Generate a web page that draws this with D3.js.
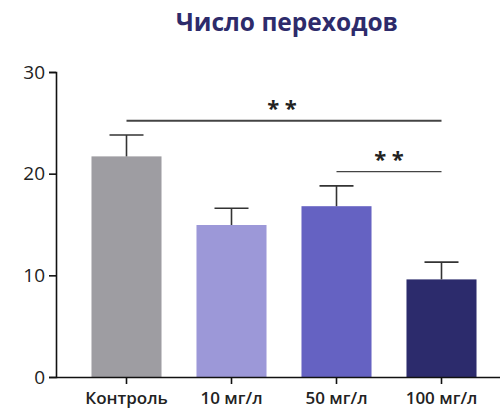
<!DOCTYPE html>
<html>
<head>
<meta charset="utf-8">
<script src="https://cdn.jsdelivr.net/npm/d3@7"></script>
<style>
  body { margin: 0; background: #fff; }
  svg text { font-family: "Open Sans", sans-serif; }
</style>
</head>
<body>
<div id="chart"></div>
<script>
// data
const categories = ["Контроль", "10 мг/л", "50 мг/л", "100 мг/л"];
const means = [21.7, 14.95, 16.8, 9.6];
const errors = [2.1, 1.65, 2.0, 1.7];
const barColors = ["#9e9da2", "#9c98d8", "#6562c2", "#2c2b6c"];
const yTicks = [0, 10, 20, 30];
// significance brackets: from group, to group, height, label
const brackets = [
    { from: 0, to: 3, y: 25.2, label: "* *", width: 2, dx: -2 },
    { from: 2, to: 3, y: 20.2, label: "* *", width: 1.2, dx: 0 }
];

const width = 500, height = 414;
const margin = { top: 72, right: 0, bottom: 37, left: 56 };

const svg = d3.select("#chart").append("svg")
    .attr("width", width)
    .attr("height", height);

svg.append("text")
    .attr("x", 287)
    .attr("y", 31)
    .attr("text-anchor", "middle")
    .attr("fill", "#2d2b6b")
    .style("font-size", "24.5px")
    .style("font-weight", "700")
    .text("Число переходов");

const x = d3.scaleBand()
    .domain(categories)
    .range([margin.left + 18, margin.left + 18 + 4 * 105])
    .paddingInner(0.333)
    .paddingOuter(0.1665);

const y = d3.scaleLinear()
    .domain([0, 30])
    .range([height - margin.bottom, margin.top]);

const g = svg.append("g");

// bars
g.selectAll("rect.bar")
    .data(categories)
    .enter().append("rect")
    .attr("class", "bar")
    .attr("x", d => x(d))
    .attr("width", x.bandwidth())
    .attr("y", (d, i) => y(means[i]))
    .attr("height", (d, i) => y(0) - y(means[i]))
    .attr("fill", (d, i) => barColors[i]);

// error bars (upper only)
const err = g.selectAll("g.err")
    .data(categories)
    .enter().append("g")
    .attr("class", "err")
    .attr("stroke", "#333")
    .attr("stroke-width", 1.6);

err.append("line")
    .attr("x1", d => x(d) + x.bandwidth() / 2)
    .attr("x2", d => x(d) + x.bandwidth() / 2)
    .attr("y1", (d, i) => y(means[i]))
    .attr("y2", (d, i) => y(means[i] + errors[i]));

err.append("line")
    .attr("x1", d => x(d) + x.bandwidth() / 2 - 17)
    .attr("x2", d => x(d) + x.bandwidth() / 2 + 17)
    .attr("y1", (d, i) => y(means[i] + errors[i]))
    .attr("y2", (d, i) => y(means[i] + errors[i]));

// y axis
const yAxis = svg.append("g")
    .attr("transform", `translate(${margin.left},0)`)
    .call(d3.axisLeft(y).tickValues(yTicks).tickSize(7).tickPadding(4));
yAxis.select(".domain").attr("stroke", "#111").attr("stroke-width", 1.6);
yAxis.selectAll(".tick line").attr("stroke", "#111").attr("stroke-width", 1.6);
yAxis.selectAll(".tick text")
    .attr("fill", "#222")
    .style("font-size", "19px");

// x axis
const xAxis = svg.append("g")
    .attr("transform", `translate(0,${y(0)})`)
    .call(d3.axisBottom(x).tickSize(7).tickPadding(8).tickSizeOuter(0));
xAxis.select(".domain")
    .attr("d", `M${margin.left},0.5H${width}`)
    .attr("stroke", "#111").attr("stroke-width", 1.6);
xAxis.selectAll(".tick line").attr("stroke", "#111").attr("stroke-width", 1.6);
xAxis.selectAll(".tick text")
    .attr("fill", "#222")
    .style("font-size", "17px")
    .style("font-weight", "600");

// significance brackets
const br = svg.selectAll("g.sig")
    .data(brackets)
    .enter().append("g")
    .attr("class", "sig");

br.append("line")
    .attr("x1", d => x(categories[d.from]) + x.bandwidth() / 2)
    .attr("x2", d => x(categories[d.to]) + x.bandwidth() / 2)
    .attr("y1", d => y(d.y))
    .attr("y2", d => y(d.y))
    .attr("stroke", "#444")
    .attr("stroke-width", d => d.width);

br.append("text")
    .attr("x", d => (x(categories[d.from]) + x(categories[d.to]) + x.bandwidth()) / 2 + d.dx)
    .attr("y", d => y(d.y) - 5)
    .attr("text-anchor", "middle")
    .attr("fill", "#222")
    .style("font-size", "22px")
    .style("font-weight", "700")
    .text(d => d.label);
</script>
</body>
</html>
